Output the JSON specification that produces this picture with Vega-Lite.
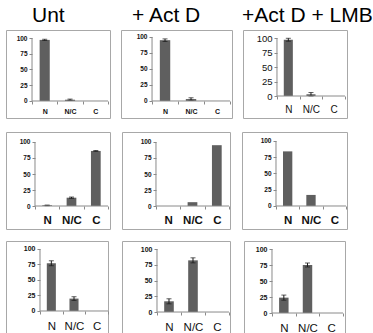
{
"$schema": "https://vega.github.io/schema/vega-lite/v6.json",
"padding": {"left": 5, "top": 4, "right": 0, "bottom": 0},
"background": "white",
"data": {"values": [
{"p":"r1c1","cat":"N","v":97,"e":1},{"p":"r1c1","cat":"N/C","v":2,"e":1},{"p":"r1c1","cat":"C","v":0,"e":0},
{"p":"r1c2","cat":"N","v":95,"e":2},{"p":"r1c2","cat":"N/C","v":3,"e":2},{"p":"r1c2","cat":"C","v":0,"e":0},
{"p":"r1c3","cat":"N","v":97,"e":2.5},{"p":"r1c3","cat":"N/C","v":3,"e":3},{"p":"r1c3","cat":"C","v":0,"e":0},
{"p":"r2c1","cat":"N","v":1,"e":0.5},{"p":"r2c1","cat":"N/C","v":13,"e":1},{"p":"r2c1","cat":"C","v":86,"e":0.7},
{"p":"r2c2","cat":"N","v":0,"e":0},{"p":"r2c2","cat":"N/C","v":6,"e":0},{"p":"r2c2","cat":"C","v":95,"e":0},
{"p":"r2c3","cat":"N","v":84,"e":0},{"p":"r2c3","cat":"N/C","v":17,"e":0},{"p":"r2c3","cat":"C","v":0,"e":0},
{"p":"r3c1","cat":"N","v":77,"e":4},{"p":"r3c1","cat":"N/C","v":20,"e":3},{"p":"r3c1","cat":"C","v":0,"e":0},
{"p":"r3c2","cat":"N","v":17,"e":4},{"p":"r3c2","cat":"N/C","v":82,"e":4},{"p":"r3c2","cat":"C","v":0,"e":0},
{"p":"r3c3","cat":"N","v":24,"e":4},{"p":"r3c3","cat":"N/C","v":75,"e":3},{"p":"r3c3","cat":"C","v":0,"e":0}
]},
"spacing": 12,
"vconcat": [
{"spacing": 11, "bounds": "flush", "hconcat": [
{
"width":104,"height":88,
"title":{"text":"Unt","anchor":"start","frame":"group","dx":26,"offset":-13,"baseline":"alphabetic","fontSize":21,"fontWeight":"normal","font":"Liberation Sans","color":"#000"},
"transform":[{"filter":"datum.p === 'r1c1'"}],
"encoding":{
 "x":{"field":"cat","type":"nominal","title":null,"sort":["N","N/C","C"],"scale":{"domain":["N","N/C","C"],"paddingInner":0,"paddingOuter":0.553,"align":0.929},"axis":{"offset":-17,"labelFontSize":7,"labelFontWeight":"bold","labelPadding":3}},
 "y":{"field":"v","type":"quantitative","title":null,"scale":{"domain":[-27,112.7],"nice":false,"zero":false},"axis":{"offset":-26,"values":[0,25,50,75,100],"labelFontSize":6.5,"labelFontWeight":"bold"}}
},
"layer":[
 {"mark":{"type":"bar","color":"#5f5f5f","width":{"band":0.4}}},
 {"transform":[{"filter":"datum.e > 0"}],"mark":{"type":"errorbar","ticks":{"size":5},"color":"#1a1a1a"},"encoding":{"yError":{"field":"e"}}},
 {"transform":[{"filter":"datum.cat === 'N'"}],"mark":{"type":"rule","color":"#8a8a8a"},"encoding":{"x":{"datum":"N","bandPosition":0},"x2":{"datum":"C","bandPosition":1},"y":{"datum":0}}},
 {"transform":[{"filter":"datum.cat === 'N'"}],"mark":{"type":"rule","color":"#8a8a8a"},"encoding":{"x":{"datum":"N","bandPosition":0},"y":{"datum":0},"y2":{"datum":100}}}
]
},
{
"width":111,"height":88,
"title":{"text":"+ Act D","anchor":"start","frame":"group","dx":11,"offset":-13,"baseline":"alphabetic","fontSize":21,"fontWeight":"normal","font":"Liberation Sans","color":"#000"},
"transform":[{"filter":"datum.p === 'r1c2'"}],
"encoding":{
 "x":{"field":"cat","type":"nominal","title":null,"sort":["N","N/C","C"],"scale":{"domain":["N","N/C","C"],"paddingInner":0,"paddingOuter":0.635,"align":0.94},"axis":{"offset":-17,"labelFontSize":7,"labelFontWeight":"bold","labelPadding":3}},
 "y":{"field":"v","type":"quantitative","title":null,"scale":{"domain":[-26.6,110.9],"nice":false,"zero":false},"axis":{"offset":-31,"values":[0,25,50,75,100],"labelFontSize":6.5,"labelFontWeight":"bold"}}
},
"layer":[
 {"mark":{"type":"bar","color":"#5f5f5f","width":{"band":0.4}}},
 {"transform":[{"filter":"datum.e > 0"}],"mark":{"type":"errorbar","ticks":{"size":5},"color":"#1a1a1a"},"encoding":{"yError":{"field":"e"}}},
 {"transform":[{"filter":"datum.cat === 'N'"}],"mark":{"type":"rule","color":"#8a8a8a"},"encoding":{"x":{"datum":"N","bandPosition":0},"x2":{"datum":"C","bandPosition":1},"y":{"datum":0}}},
 {"transform":[{"filter":"datum.cat === 'N'"}],"mark":{"type":"rule","color":"#8a8a8a"},"encoding":{"x":{"datum":"N","bandPosition":0},"y":{"datum":0},"y2":{"datum":100}}}
]
},
{
"width":104,"height":88,
"title":{"text":"+Act D + LMB","anchor":"start","frame":"group","dx":-1,"offset":-13,"baseline":"alphabetic","fontSize":21,"fontWeight":"normal","font":"Liberation Sans","color":"#000"},
"transform":[{"filter":"datum.p === 'r1c3'"}],
"encoding":{
 "x":{"field":"cat","type":"nominal","title":null,"sort":["N","N/C","C"],"scale":{"domain":["N","N/C","C"],"paddingInner":0,"paddingOuter":0.794,"align":0.944},"axis":{"offset":-22,"labelFontSize":10,"labelFontWeight":"normal","labelPadding":5}},
 "y":{"field":"v","type":"quantitative","title":null,"scale":{"domain":[-37.9,113.8],"nice":false,"zero":false},"axis":{"offset":-34,"values":[0,25,50,75,100],"labelFontSize":9.5,"labelFontWeight":"normal"}}
},
"layer":[
 {"mark":{"type":"bar","color":"#5f5f5f","width":{"band":0.4}}},
 {"transform":[{"filter":"datum.e > 0"}],"mark":{"type":"errorbar","ticks":{"size":5},"color":"#1a1a1a"},"encoding":{"yError":{"field":"e"}}},
 {"transform":[{"filter":"datum.cat === 'N'"}],"mark":{"type":"rule","color":"#8a8a8a"},"encoding":{"x":{"datum":"N","bandPosition":0},"x2":{"datum":"C","bandPosition":1},"y":{"datum":0}}},
 {"transform":[{"filter":"datum.cat === 'N'"}],"mark":{"type":"rule","color":"#8a8a8a"},"encoding":{"x":{"datum":"N","bandPosition":0},"y":{"datum":0},"y2":{"datum":100}}}
]
}
]},
{"spacing": 10, "vconcat": [
{"spacing": 12, "bounds": "flush", "hconcat": [
{
"width":104,"height":97,
"transform":[{"filter":"datum.p === 'r2c1'"}],
"encoding":{
 "x":{"field":"cat","type":"nominal","title":null,"sort":["N","N/C","C"],"scale":{"domain":["N","N/C","C"],"paddingInner":0,"paddingOuter":0.637,"align":0.935},"axis":{"offset":-23,"labelFontSize":11.5,"labelFontWeight":"bold","labelPadding":5}},
 "y":{"field":"v","type":"quantitative","title":null,"scale":{"domain":[-35.9,115.6],"nice":false,"zero":false},"axis":{"offset":-29,"values":[0,25,50,75,100],"labelFontSize":6.5,"labelFontWeight":"bold"}}
},
"layer":[
 {"mark":{"type":"bar","color":"#5f5f5f","width":{"band":0.4}}},
 {"transform":[{"filter":"datum.e > 0"}],"mark":{"type":"errorbar","ticks":{"size":5},"color":"#1a1a1a"},"encoding":{"yError":{"field":"e"}}},
 {"transform":[{"filter":"datum.cat === 'N'"}],"mark":{"type":"rule","color":"#8a8a8a"},"encoding":{"x":{"datum":"N","bandPosition":0},"x2":{"datum":"C","bandPosition":1},"y":{"datum":0}}},
 {"transform":[{"filter":"datum.cat === 'N'"}],"mark":{"type":"rule","color":"#8a8a8a"},"encoding":{"x":{"datum":"N","bandPosition":0},"y":{"datum":0},"y2":{"datum":100}}}
]
},
{
"width":108,"height":97,
"transform":[{"filter":"datum.p === 'r2c2'"}],
"encoding":{
 "x":{"field":"cat","type":"nominal","title":null,"sort":["N","N/C","C"],"scale":{"domain":["N","N/C","C"],"paddingInner":0,"paddingOuter":0.719,"align":0.971},"axis":{"offset":-23,"labelFontSize":11.5,"labelFontWeight":"bold","labelPadding":5}},
 "y":{"field":"v","type":"quantitative","title":null,"scale":{"domain":[-35.9,115.6],"nice":false,"zero":false},"axis":{"offset":-34,"values":[0,25,50,75,100],"labelFontSize":6.5,"labelFontWeight":"bold"}}
},
"layer":[
 {"mark":{"type":"bar","color":"#5f5f5f","width":{"band":0.4}}},
 {"transform":[{"filter":"datum.cat === 'N'"}],"mark":{"type":"rule","color":"#8a8a8a"},"encoding":{"x":{"datum":"N","bandPosition":0},"x2":{"datum":"C","bandPosition":1},"y":{"datum":0}}},
 {"transform":[{"filter":"datum.cat === 'N'"}],"mark":{"type":"rule","color":"#8a8a8a"},"encoding":{"x":{"datum":"N","bandPosition":0},"y":{"datum":0},"y2":{"datum":100}}}
]
},
{
"width":105,"height":97,
"transform":[{"filter":"datum.p === 'r2c3'"}],
"encoding":{
 "x":{"field":"cat","type":"nominal","title":null,"sort":["N","N/C","C"],"scale":{"domain":["N","N/C","C"],"paddingInner":0,"paddingOuter":0.75,"align":0.971},"axis":{"offset":-23,"labelFontSize":11.5,"labelFontWeight":"bold","labelPadding":5}},
 "y":{"field":"v","type":"quantitative","title":null,"scale":{"domain":[-35.4,113.8],"nice":false,"zero":false},"axis":{"offset":-34,"values":[0,25,50,75,100],"labelFontSize":6.5,"labelFontWeight":"bold"}}
},
"layer":[
 {"mark":{"type":"bar","color":"#5f5f5f","width":{"band":0.4}}},
 {"transform":[{"filter":"datum.cat === 'N'"}],"mark":{"type":"rule","color":"#8a8a8a"},"encoding":{"x":{"datum":"N","bandPosition":0},"x2":{"datum":"C","bandPosition":1},"y":{"datum":0}}},
 {"transform":[{"filter":"datum.cat === 'N'"}],"mark":{"type":"rule","color":"#8a8a8a"},"encoding":{"x":{"datum":"N","bandPosition":0},"y":{"datum":0},"y2":{"datum":100}}}
]
}
]},
{"spacing": 14, "bounds": "flush", "hconcat": [
{
"width":102,"height":92,
"transform":[{"filter":"datum.p === 'r3c1'"}],
"encoding":{
 "x":{"field":"cat","type":"nominal","title":null,"sort":["N","N/C","C"],"scale":{"domain":["N","N/C","C"],"paddingInner":0,"paddingOuter":0.75,"align":1},"axis":{"offset":-22,"labelFontSize":11.5,"labelFontWeight":"normal","labelPadding":6}},
 "y":{"field":"v","type":"quantitative","title":null,"scale":{"domain":[-35.5,112.9],"nice":false,"zero":false},"axis":{"offset":-34,"values":[0,25,50,75,100],"labelFontSize":7,"labelFontWeight":"bold"}}
},
"layer":[
 {"mark":{"type":"bar","color":"#5f5f5f","width":{"band":0.4}}},
 {"transform":[{"filter":"datum.e > 0"}],"mark":{"type":"errorbar","ticks":{"size":5},"color":"#1a1a1a"},"encoding":{"yError":{"field":"e"}}},
 {"transform":[{"filter":"datum.cat === 'N'"}],"mark":{"type":"rule","color":"#8a8a8a"},"encoding":{"x":{"datum":"N","bandPosition":0},"x2":{"datum":"C","bandPosition":1},"y":{"datum":0}}},
 {"transform":[{"filter":"datum.cat === 'N'"}],"mark":{"type":"rule","color":"#8a8a8a"},"encoding":{"x":{"datum":"N","bandPosition":0},"y":{"datum":0},"y2":{"datum":100}}}
]
},
{
"width":108,"height":92,
"transform":[{"filter":"datum.p === 'r3c2'"}],
"encoding":{
 "x":{"field":"cat","type":"nominal","title":null,"sort":["N","N/C","C"],"scale":{"domain":["N","N/C","C"],"paddingInner":0,"paddingOuter":0.75,"align":0.972},"axis":{"offset":-21,"labelFontSize":11.5,"labelFontWeight":"normal","labelPadding":6}},
 "y":{"field":"v","type":"quantitative","title":null,"scale":{"domain":[-33.3,112.7],"nice":false,"zero":false},"axis":{"offset":-35,"values":[0,25,50,75,100],"labelFontSize":7,"labelFontWeight":"bold"}}
},
"layer":[
 {"mark":{"type":"bar","color":"#5f5f5f","width":{"band":0.4}}},
 {"transform":[{"filter":"datum.e > 0"}],"mark":{"type":"errorbar","ticks":{"size":5},"color":"#1a1a1a"},"encoding":{"yError":{"field":"e"}}},
 {"transform":[{"filter":"datum.cat === 'N'"}],"mark":{"type":"rule","color":"#8a8a8a"},"encoding":{"x":{"datum":"N","bandPosition":0},"x2":{"datum":"C","bandPosition":1},"y":{"datum":0}}},
 {"transform":[{"filter":"datum.cat === 'N'"}],"mark":{"type":"rule","color":"#8a8a8a"},"encoding":{"x":{"datum":"N","bandPosition":0},"y":{"datum":0},"y2":{"datum":100}}}
]
},
{
"width":101,"height":92,
"transform":[{"filter":"datum.p === 'r3c3'"}],
"encoding":{
 "x":{"field":"cat","type":"nominal","title":null,"sort":["N","N/C","C"],"scale":{"domain":["N","N/C","C"],"paddingInner":0,"paddingOuter":0.634,"align":0.933},"axis":{"offset":-20,"labelFontSize":11.5,"labelFontWeight":"normal","labelPadding":6}},
 "y":{"field":"v","type":"quantitative","title":null,"scale":{"domain":[-31.25,112.5],"nice":false,"zero":false},"axis":{"offset":-28,"values":[0,25,50,75,100],"labelFontSize":7,"labelFontWeight":"bold"}}
},
"layer":[
 {"mark":{"type":"bar","color":"#5f5f5f","width":{"band":0.4}}},
 {"transform":[{"filter":"datum.e > 0"}],"mark":{"type":"errorbar","ticks":{"size":5},"color":"#1a1a1a"},"encoding":{"yError":{"field":"e"}}},
 {"transform":[{"filter":"datum.cat === 'N'"}],"mark":{"type":"rule","color":"#8a8a8a"},"encoding":{"x":{"datum":"N","bandPosition":0},"x2":{"datum":"C","bandPosition":1},"y":{"datum":0}}},
 {"transform":[{"filter":"datum.cat === 'N'"}],"mark":{"type":"rule","color":"#8a8a8a"},"encoding":{"x":{"datum":"N","bandPosition":0},"y":{"datum":0},"y2":{"datum":100}}}
]
}
]}
]}
],
"config": {
 "view": {"stroke": "#a8a8a8", "strokeWidth": 1},
 "axis": {"domain": false, "grid": false, "tickSize": 3, "tickColor": "#8a8a8a", "labelFont": "Liberation Sans", "labelColor": "#111"},
 "axisX": {"labelAngle": 0, "tickBand": "extent"},
 "axisY": {"labelPadding": 2}
}
}
